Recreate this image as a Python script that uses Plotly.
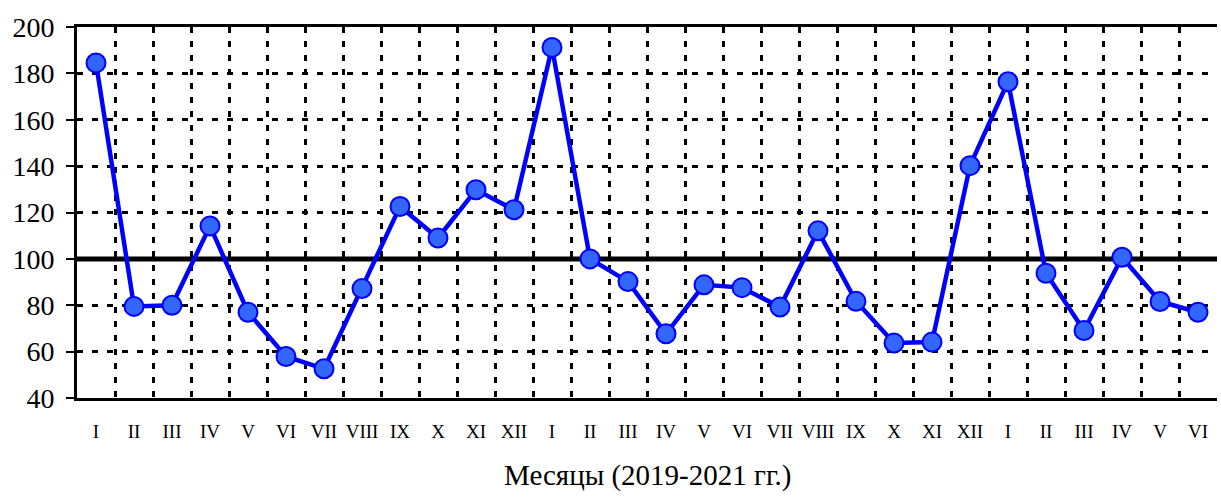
import plotly.graph_objects as go

months = ["I", "II", "III", "IV", "V", "VI", "VII", "VIII", "IX", "X", "XI", "XII",
          "I", "II", "III", "IV", "V", "VI", "VII", "VIII", "IX", "X", "XI", "XII",
          "I", "II", "III", "IV", "V", "VI"]
values = [184.5, 79.5, 80.0, 114.2, 77.0, 57.9, 52.6, 87.2, 122.6, 109.0, 129.8, 121.2,
          191.2, 100.0, 90.2, 67.7, 88.8, 87.6, 79.2, 112.1, 81.7, 63.7, 64.1, 140.2,
          176.4, 93.8, 69.1, 100.7, 81.6, 77.0]
y_ticks = [40, 60, 80, 100, 120, 140, 160, 180, 200]
reference_level = 100
x_title = "Месяцы (2019-2021 гг.)"

idx = list(range(len(months)))
font_family = "Liberation Serif, serif"

fig = go.Figure()
# reference line at 100
fig.add_trace(go.Scatter(
    x=[-0.5, len(months) - 0.5], y=[reference_level, reference_level],
    mode="lines", line=dict(color="black", width=5), hoverinfo="skip", showlegend=False))
fig.add_trace(go.Scatter(
    x=idx, y=values, mode="lines+markers",
    line=dict(color="#0000FF", width=4.5),
    marker=dict(size=19, color="#3366FF", line=dict(color="#0000FF", width=2)),
    showlegend=False))

fig.update_layout(
    width=1221, height=503,
    margin=dict(l=77, r=4, t=27, b=105),
    paper_bgcolor="white", plot_bgcolor="white",
    font=dict(family=font_family, color="black"),
    annotations=[dict(text=x_title, xref="paper", yref="paper", x=0.5, y=-0.21,
                      xanchor="center", yanchor="middle", showarrow=False,
                      font=dict(size=29, family=font_family, color="black"))],
)
fig.update_xaxes(
    range=[-0.5, len(months) - 0.5], tickmode="array", tickvals=idx, ticktext=months,
    showgrid=False, zeroline=False, ticks="", ticklabelstandoff=14, automargin=False,
    tickfont=dict(size=19, family=font_family, color="black"),
    showline=True, linecolor="black", linewidth=3, mirror=True,
    minor=dict(tickmode="array", tickvals=[i + 0.5 for i in idx[:-1]], showgrid=True,
               gridcolor="black", gridwidth=3, griddash="6px,8px", ticks=""),
)
fig.update_yaxes(
    range=[40, 200], tickmode="array", tickvals=y_ticks, automargin=False,
    showgrid=True, gridcolor="black", gridwidth=3, griddash="6px,9px", zeroline=False,
    ticks="outside", ticklen=8, tickwidth=2, tickcolor="black", ticklabelstandoff=6,
    tickfont=dict(size=28, family=font_family, color="black"),
    showline=True, linecolor="black", linewidth=3,
)
fig.write_html(
    "out.html",
    config={"displayModeBar": False},
    post_script="document.body.style.margin='0';document.body.style.overflow='hidden';",
)
